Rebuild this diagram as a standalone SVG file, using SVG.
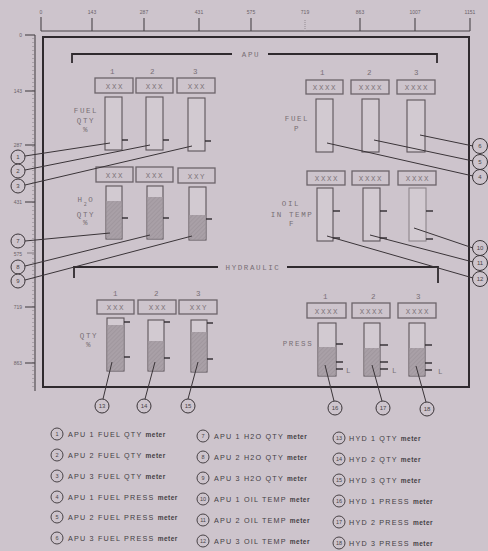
<svg xmlns="http://www.w3.org/2000/svg" width="488" height="551" viewBox="0 0 488 551">
<defs>
<pattern id="hatch" width="3" height="3" patternUnits="userSpaceOnUse" patternTransform="rotate(45)">
<rect width="3" height="3" fill="#a9a0a7"/>
<line x1="0" y1="0" x2="0" y2="3" stroke="#978e95" stroke-width="1"/>
</pattern>
</defs>
<style>
.lbl{font-family:"Liberation Mono","DejaVu Sans Mono",monospace;font-size:7.5px;fill:#786f75;letter-spacing:1.6px;text-anchor:middle}
.xx{font-family:"Liberation Mono","DejaVu Sans Mono",monospace;font-size:7.5px;fill:#7d747a;text-anchor:middle;letter-spacing:1.6px}
.rul{font-family:"Liberation Sans",Arial,sans-serif;font-size:5px;fill:#6a6268}
.box{fill:none;stroke:#6c646a;stroke-width:1.3}
.meter{fill:#d2cad1;stroke:#5c545a;stroke-width:1.1}
.lt{stroke:#8d858b}
.fill{fill:url(#hatch)}
.tick{stroke:#2f2a2e;stroke-width:1.4}
.conn line{stroke:#3a3438;stroke-width:1}
.co{fill:#cdc4cc;stroke:#3a3438;stroke-width:1}
.cot{font-family:"Liberation Sans",Arial,sans-serif;font-size:6px;fill:#4a4448;text-anchor:middle}
.br{fill:none;stroke:#2f2a2e;stroke-width:1.8}
.leg{font-family:"Liberation Sans",Arial,sans-serif;font-size:7.2px;fill:#444044;letter-spacing:1.2px}
.leg tspan.m{font-weight:bold;font-size:6.5px;letter-spacing:0.5px}
.lc{fill:none;stroke:#3a3438;stroke-width:0.9}
.lct{font-family:"Liberation Sans",Arial,sans-serif;font-size:5.5px;fill:#4a4448;text-anchor:middle}
</style>
<rect width="488" height="551" fill="#cdc4cc"/>

<g id="ruler-top">
<line x1="41" y1="31" x2="470" y2="31" stroke="#4a4448" stroke-width="1.1"/>
<g stroke="#4a4448" stroke-width="1.1">
<line x1="41" y1="17" x2="41" y2="31"/><line x1="92" y1="18" x2="92" y2="31"/><line x1="144" y1="18" x2="144" y2="31"/><line x1="199" y1="18" x2="199" y2="31"/><line x1="251" y1="18" x2="251" y2="31"/><line x1="305" y1="20" x2="305" y2="31" stroke="#9a9298" stroke-dasharray="1 1"/><line x1="360" y1="18" x2="360" y2="31"/><line x1="415" y1="18" x2="415" y2="31"/><line x1="470" y1="18" x2="470" y2="31"/>
</g>
<g class="rul" text-anchor="middle">
<text x="41" y="14">0</text><text x="92" y="14">143</text><text x="144" y="14">287</text><text x="199" y="14">431</text><text x="251" y="14">575</text><text x="305" y="14">719</text><text x="360" y="14">863</text><text x="415" y="14">1007</text><text x="470" y="14">1151</text>
</g>
</g>

<g id="ruler-left">
<line x1="35" y1="35" x2="35" y2="391" stroke="#4a4448" stroke-width="1.1"/>
<line x1="33" y1="38" x2="33" y2="388" stroke="#8a8288" stroke-width="2" stroke-dasharray="0.6 3.4"/>
<g stroke="#4a4448" stroke-width="1.1">
<line x1="25" y1="35" x2="35" y2="35"/><line x1="25" y1="91" x2="35" y2="91"/><line x1="25" y1="145" x2="35" y2="145"/><line x1="25" y1="202" x2="35" y2="202"/><line x1="27" y1="253" x2="35" y2="253" stroke="#8a8288"/><line x1="25" y1="307" x2="35" y2="307"/><line x1="25" y1="363" x2="35" y2="363"/>
</g>
<g class="rul" text-anchor="end">
<text x="22" y="37">0</text><text x="22" y="93">143</text><text x="22" y="147">287</text><text x="22" y="204">431</text><text x="22" y="256">575</text><text x="22" y="309">719</text><text x="22" y="365">863</text>
</g>
</g>

<rect id="frame" x="43" y="37" width="426" height="350" fill="none" stroke="#2f2a2e" stroke-width="2"/>

<g id="apu-bracket">
<path class="br" d="M72,63 V54 H232 M268,54 H437 V63"/>
<text class="lbl" x="251" y="57">APU</text>
</g>
<g id="hyd-bracket">
<path class="br" d="M74,278 V267 H218 M287,267 H438 V283"/>
<text class="lbl" x="253" y="270">HYDRAULIC</text>
</g>

<g id="apu-fuel-qty-label">
<text class="lbl" x="86" y="113">FUEL</text><text class="lbl" x="86" y="123">QTY</text><text class="lbl" x="86" y="132">%</text>
</g>
<g id="apu1-fuel-qty">
<text class="lbl" x="113" y="74">1</text>
<rect class="box" x="95" y="78" width="38" height="15"/><text class="xx" x="115" y="88.5">XXX</text>
<rect class="meter" x="105" y="97" width="17" height="53"/>
<line class="tick" x1="122" y1="140" x2="128" y2="140"/>
</g>
<g id="apu2-fuel-qty">
<text class="lbl" x="153" y="74">2</text>
<rect class="box" x="136" y="78" width="37" height="15"/><text class="xx" x="155" y="88.5">XXX</text>
<rect class="meter" x="146" y="97" width="17" height="53"/>
<line class="tick" x1="163" y1="140" x2="169" y2="140"/>
</g>
<g id="apu3-fuel-qty">
<text class="lbl" x="196" y="74">3</text>
<rect class="box" x="177" y="78" width="38" height="15"/><text class="xx" x="197" y="88.5">XXX</text>
<rect class="meter" x="188" y="98" width="17" height="53"/>
<line class="tick" x1="205" y1="141" x2="211" y2="141"/>
</g>

<g id="apu-h2o-qty-label">
<text class="lbl" x="86" y="202">H<tspan font-size="5" dy="4">2</tspan><tspan dy="-4">O</tspan></text><text class="lbl" x="86" y="217">QTY</text><text class="lbl" x="86" y="225">%</text>
</g>
<g id="apu1-h2o-qty">
<rect class="box" x="96" y="167" width="37" height="15"/><text class="xx" x="115" y="177.5">XXX</text>
<rect class="meter" x="106" y="186" width="16" height="53"/>
<rect class="fill" x="106.5" y="201" width="15" height="37.5"/>
<line class="tick" x1="122" y1="218" x2="128" y2="218"/>
</g>
<g id="apu2-h2o-qty">
<rect class="box" x="136" y="167" width="37" height="15"/><text class="xx" x="155" y="177.5">XXX</text>
<rect class="meter" x="147" y="186" width="16" height="53"/>
<rect class="fill" x="147.5" y="197" width="15" height="41.5"/>
<line class="tick" x1="163" y1="218" x2="169" y2="218"/>
</g>
<g id="apu3-h2o-qty">
<rect class="box" x="178" y="168" width="37" height="15"/><text class="xx" x="197" y="178.5">XXY</text>
<rect class="meter" x="189" y="187" width="17" height="53"/>
<rect class="fill" x="189.5" y="215" width="16" height="24.5"/>
<line class="tick" x1="206" y1="219" x2="212" y2="219"/>
</g>

<g id="apu-fuel-p-label">
<text class="lbl" x="297" y="121">FUEL</text><text class="lbl" x="297" y="131">P</text>
</g>
<g id="apu1-fuel-press">
<text class="lbl" x="323" y="75">1</text>
<rect class="box" x="306" y="80" width="37" height="14"/><text class="xx" x="325" y="90">XXXX</text>
<rect class="meter" x="316" y="99" width="17" height="53"/>
</g>
<g id="apu2-fuel-press">
<text class="lbl" x="370" y="75">2</text>
<rect class="box" x="351" y="80" width="38" height="14"/><text class="xx" x="371" y="90">XXXX</text>
<rect class="meter" x="362" y="99" width="17" height="53"/>
</g>
<g id="apu3-fuel-press">
<text class="lbl" x="417" y="75">3</text>
<rect class="box" x="397" y="80" width="38" height="14"/><text class="xx" x="417" y="90">XXXX</text>
<rect class="meter" x="407" y="100" width="18" height="52"/>
</g>

<g id="apu-oil-temp-label">
<text class="lbl" x="291" y="206">OIL</text><text class="lbl" x="292" y="217">IN TEMP</text><text class="lbl" x="292" y="226">F</text>
</g>
<g id="apu1-oil-temp">
<rect class="box" x="307" y="171" width="38" height="14"/><text class="xx" x="327" y="181">XXXX</text>
<rect class="meter" x="317" y="188" width="16" height="53"/>
<line class="tick" x1="333" y1="211" x2="340" y2="211"/><line class="tick" x1="333" y1="238" x2="340" y2="238"/>
</g>
<g id="apu2-oil-temp">
<rect class="box" x="352" y="171" width="37" height="14"/><text class="xx" x="371" y="181">XXXX</text>
<rect class="meter" x="363" y="188" width="17" height="53"/>
<line class="tick" x1="380" y1="211" x2="387" y2="211"/><line class="tick" x1="380" y1="238" x2="387" y2="238"/>
</g>
<g id="apu3-oil-temp">
<rect class="box" x="398" y="171" width="38" height="14"/><text class="xx" x="418" y="181">XXXX</text>
<rect class="meter lt" x="409" y="188" width="17" height="53"/>
<line class="tick" x1="426" y1="211" x2="433" y2="211"/><line class="tick" x1="426" y1="239" x2="433" y2="239"/>
</g>

<g id="hyd-qty-label">
<text class="lbl" x="89" y="338">QTY</text><text class="lbl" x="89" y="347">%</text>
</g>
<g id="hyd1-qty">
<text class="lbl" x="116" y="296">1</text>
<rect class="box" x="97" y="300" width="37" height="14"/><text class="xx" x="116" y="310">XXX</text>
<rect class="meter" x="107" y="318" width="17" height="53"/>
<rect class="fill" x="107.5" y="325" width="16" height="45.5"/>
<line class="tick" x1="124" y1="322" x2="130" y2="322"/><line class="tick" x1="124" y1="357" x2="130" y2="357"/>
</g>
<g id="hyd2-qty">
<text class="lbl" x="157" y="296">2</text>
<rect class="box" x="138" y="300" width="38" height="14"/><text class="xx" x="158" y="310">XXX</text>
<rect class="meter" x="148" y="320" width="16" height="51"/>
<rect class="fill" x="148.5" y="341" width="15" height="29.5"/>
<line class="tick" x1="164" y1="322" x2="170" y2="322"/><line class="tick" x1="164" y1="358" x2="170" y2="358"/>
</g>
<g id="hyd3-qty">
<text class="lbl" x="199" y="296">3</text>
<rect class="box" x="179" y="300" width="38" height="14"/><text class="xx" x="199" y="310">XXY</text>
<rect class="meter" x="191" y="320" width="16" height="52"/>
<rect class="fill" x="191.5" y="332" width="15" height="39.5"/>
<line class="tick" x1="207" y1="323" x2="213" y2="323"/><line class="tick" x1="207" y1="359" x2="213" y2="359"/>
</g>

<g id="hyd-press-label">
<text class="lbl" x="298" y="346">PRESS</text>
</g>
<g id="hyd1-press">
<text class="lbl" x="326" y="299">1</text>
<rect class="box" x="307" y="303" width="39" height="15"/><text class="xx" x="327" y="313.5">XXXX</text>
<rect class="meter" x="318" y="323" width="18" height="53"/>
<rect class="fill" x="318.5" y="347" width="17" height="28.5"/>
<line class="tick" x1="336" y1="344" x2="343" y2="344"/><line class="tick" x1="336" y1="362" x2="343" y2="362"/><line class="tick" x1="336" y1="369" x2="343" y2="369"/>
<text class="lbl" x="349" y="373">L</text>
</g>
<g id="hyd2-press">
<text class="lbl" x="374" y="299">2</text>
<rect class="box" x="352" y="303" width="38" height="15"/><text class="xx" x="372" y="313.5">XXXX</text>
<rect class="meter" x="364" y="323" width="16" height="53"/>
<rect class="fill" x="364.5" y="348" width="15" height="27.5"/>
<line class="tick" x1="380" y1="345" x2="388" y2="345"/><line class="tick" x1="380" y1="362" x2="388" y2="362"/><line class="tick" x1="380" y1="369" x2="388" y2="369"/>
<text class="lbl" x="395" y="373">L</text>
</g>
<g id="hyd3-press">
<text class="lbl" x="419" y="299">3</text>
<rect class="box" x="398" y="303" width="38" height="15"/><text class="xx" x="418" y="313.5">XXXX</text>
<rect class="meter" x="409" y="323" width="16" height="53"/>
<rect class="fill" x="409.5" y="348" width="15" height="27.5"/>
<line class="tick" x1="425" y1="345" x2="432" y2="345"/><line class="tick" x1="425" y1="363" x2="432" y2="363"/><line class="tick" x1="425" y1="370" x2="432" y2="370"/>
<text class="lbl" x="441" y="374">L</text>
</g>

<g id="connectors" class="conn">
<line x1="25" y1="156" x2="110" y2="143"/>
<line x1="25" y1="170" x2="150" y2="145"/>
<line x1="25" y1="185" x2="192" y2="146"/>
<line x1="327" y1="143" x2="473" y2="176"/>
<line x1="374" y1="140" x2="473" y2="161"/>
<line x1="420" y1="135" x2="473" y2="146"/>
<line x1="25" y1="241" x2="110" y2="233"/>
<line x1="25" y1="266" x2="150" y2="235"/>
<line x1="25" y1="280" x2="192" y2="236"/>
<line x1="414" y1="228" x2="473" y2="248"/>
<line x1="370" y1="235" x2="473" y2="262"/>
<line x1="327" y1="236" x2="473" y2="278"/>
<line x1="103" y1="399" x2="112" y2="362"/>
<line x1="145" y1="399" x2="155" y2="362"/>
<line x1="188" y1="399" x2="198" y2="362"/>
<line x1="334" y1="401" x2="325" y2="365"/>
<line x1="382" y1="401" x2="372" y2="365"/>
<line x1="426" y1="402" x2="416" y2="366"/>
</g>

<g id="c1"><circle class="co" cx="18" cy="157" r="7"/><text class="cot" x="18" y="159">1</text></g>
<g id="c2"><circle class="co" cx="18" cy="171" r="7"/><text class="cot" x="18" y="173">2</text></g>
<g id="c3"><circle class="co" cx="18" cy="186" r="7"/><text class="cot" x="18" y="188">3</text></g>
<g id="c7"><circle class="co" cx="18" cy="241" r="7"/><text class="cot" x="18" y="243">7</text></g>
<g id="c8"><circle class="co" cx="18" cy="267" r="7"/><text class="cot" x="18" y="269">8</text></g>
<g id="c9"><circle class="co" cx="18" cy="281" r="7"/><text class="cot" x="18" y="283">9</text></g>
<g id="c6"><circle class="co" cx="480" cy="146" r="7.5"/><text class="cot" x="480" y="148">6</text></g>
<g id="c5"><circle class="co" cx="480" cy="162" r="7.5"/><text class="cot" x="480" y="164">5</text></g>
<g id="c4"><circle class="co" cx="480" cy="177" r="7.5"/><text class="cot" x="480" y="179">4</text></g>
<g id="c10"><circle class="co" cx="480" cy="248" r="7.5"/><text class="cot" x="480" y="250">10</text></g>
<g id="c11"><circle class="co" cx="480" cy="263" r="7.5"/><text class="cot" x="480" y="265">11</text></g>
<g id="c12"><circle class="co" cx="480" cy="279" r="7.5"/><text class="cot" x="480" y="281">12</text></g>
<g id="c13"><circle class="co" cx="102" cy="406" r="7"/><text class="cot" x="102" y="408">13</text></g>
<g id="c14"><circle class="co" cx="144" cy="406" r="7"/><text class="cot" x="144" y="408">14</text></g>
<g id="c15"><circle class="co" cx="188" cy="406" r="7"/><text class="cot" x="188" y="408">15</text></g>
<g id="c16"><circle class="co" cx="335" cy="408" r="7"/><text class="cot" x="335" y="410">16</text></g>
<g id="c17"><circle class="co" cx="383" cy="408" r="7"/><text class="cot" x="383" y="410">17</text></g>
<g id="c18"><circle class="co" cx="427" cy="409" r="7"/><text class="cot" x="427" y="411">18</text></g>

<g id="legend">
<g><circle class="lc" cx="57" cy="434" r="6"/><text class="lct" x="57" y="436">1</text><text class="leg" x="68" y="436.5">APU 1 FUEL QTY <tspan class="m">meter</tspan></text></g>
<g><circle class="lc" cx="57" cy="455" r="6"/><text class="lct" x="57" y="457">2</text><text class="leg" x="68" y="457.5">APU 2 FUEL QTY <tspan class="m">meter</tspan></text></g>
<g><circle class="lc" cx="57" cy="476" r="6"/><text class="lct" x="57" y="478">3</text><text class="leg" x="68" y="478.5">APU 3 FUEL QTY <tspan class="m">meter</tspan></text></g>
<g><circle class="lc" cx="57" cy="497" r="6"/><text class="lct" x="57" y="499">4</text><text class="leg" x="68" y="499.5">APU 1 FUEL PRESS <tspan class="m">meter</tspan></text></g>
<g><circle class="lc" cx="57" cy="517" r="6"/><text class="lct" x="57" y="519">5</text><text class="leg" x="68" y="519.5">APU 2 FUEL PRESS <tspan class="m">meter</tspan></text></g>
<g><circle class="lc" cx="57" cy="538" r="6"/><text class="lct" x="57" y="540">6</text><text class="leg" x="68" y="540.5">APU 3 FUEL PRESS <tspan class="m">meter</tspan></text></g>

<g><circle class="lc" cx="203" cy="436" r="6"/><text class="lct" x="203" y="438">7</text><text class="leg" x="214" y="438.5">APU 1 H2O QTY <tspan class="m">meter</tspan></text></g>
<g><circle class="lc" cx="203" cy="457" r="6"/><text class="lct" x="203" y="459">8</text><text class="leg" x="214" y="459.5">APU 2 H2O QTY <tspan class="m">meter</tspan></text></g>
<g><circle class="lc" cx="203" cy="478" r="6"/><text class="lct" x="203" y="480">9</text><text class="leg" x="214" y="480.5">APU 3 H2O QTY <tspan class="m">meter</tspan></text></g>
<g><circle class="lc" cx="203" cy="499" r="6"/><text class="lct" x="203" y="501">10</text><text class="leg" x="214" y="501.5">APU 1 OIL TEMP <tspan class="m">meter</tspan></text></g>
<g><circle class="lc" cx="203" cy="520" r="6"/><text class="lct" x="203" y="522">11</text><text class="leg" x="214" y="522.5">APU 2 OIL TEMP <tspan class="m">meter</tspan></text></g>
<g><circle class="lc" cx="203" cy="541" r="6"/><text class="lct" x="203" y="543">12</text><text class="leg" x="214" y="543.5">APU 3 OIL TEMP <tspan class="m">meter</tspan></text></g>

<g><circle class="lc" cx="339" cy="438" r="6"/><text class="lct" x="339" y="440">13</text><text class="leg" x="349" y="440.5">HYD 1 QTY <tspan class="m">meter</tspan></text></g>
<g><circle class="lc" cx="339" cy="459" r="6"/><text class="lct" x="339" y="461">14</text><text class="leg" x="349" y="461.5">HYD 2 QTY <tspan class="m">meter</tspan></text></g>
<g><circle class="lc" cx="339" cy="480" r="6"/><text class="lct" x="339" y="482">15</text><text class="leg" x="349" y="482.5">HYD 3 QTY <tspan class="m">meter</tspan></text></g>
<g><circle class="lc" cx="339" cy="501" r="6"/><text class="lct" x="339" y="503">16</text><text class="leg" x="349" y="503.5">HYD 1 PRESS <tspan class="m">meter</tspan></text></g>
<g><circle class="lc" cx="339" cy="522" r="6"/><text class="lct" x="339" y="524">17</text><text class="leg" x="349" y="524.5">HYD 2 PRESS <tspan class="m">meter</tspan></text></g>
<g><circle class="lc" cx="339" cy="543" r="6"/><text class="lct" x="339" y="545">18</text><text class="leg" x="349" y="545.5">HYD 3 PRESS <tspan class="m">meter</tspan></text></g>
</g>
</svg>
